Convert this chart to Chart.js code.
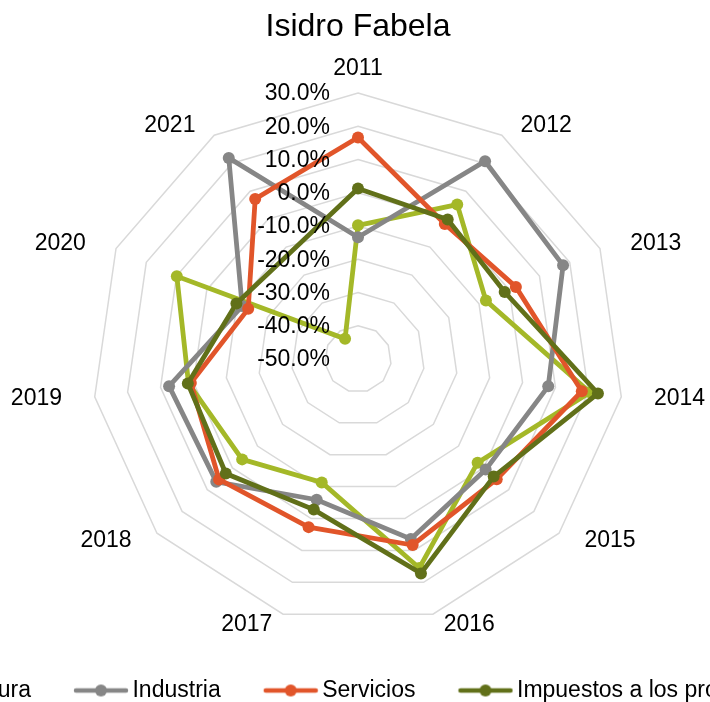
<!DOCTYPE html>
<html lang="es">
<head>
<meta charset="utf-8">
<title>Isidro Fabela</title>
<script src="https://cdn.jsdelivr.net/npm/chart.js@4.4.1/dist/chart.umd.min.js"></script>
<style>
  html, body { margin: 0; padding: 0; background: #fff; overflow: hidden; }
  .wrap { position: relative; width: 710px; height: 702px; overflow: hidden; }
  .box { position: absolute; left: -202px; top: 0; }
</style>
</head>
<body>
<div class="wrap"><div class="box"><canvas id="myChart" width="1120" height="702"></canvas></div></div>

<script>
const years = ['2011', '2012', '2013', '2014', '2015', '2016', '2017', '2018', '2019', '2020', '2021'];

// tasas de crecimiento (%)
const agricultura = [-9.8, 5.2, -7.7, 20.5, -2.4, 15.5, -11.3, -3.9, 1.5, 9.9, -42.8];
const industria   = [-13.4, 20.7, 17.8, 7.8, 0.8, 6.4, -5.9, 6.4, 7.4, -11.7, 21.9];
const servicios   = [16.6, -1.7, 2.2, 18.0, 5.2, 8.3, 2.7, 5.3, 0.8, -13.7, 7.2];
const impuestos   = [1.3, -0.1, -1.5, 22.9, 4.0, 17.2, -2.8, 2.6, 1.7, -9.8, null];

const seriesNames  = ['Agricultura', 'Industria', 'Servicios', 'Impuestos a los productos netos'];
const seriesColors = ['#a4b828', '#868686', '#e1552a', '#617019'];

const tickMin = -50, tickMax = 30, tickStep = 10;

const FONT = '"Liberation Sans", Arial, sans-serif';

function legendMark(color) {
  const c = document.createElement('canvas');
  c.width = 96; c.height = 14;
  const g = c.getContext('2d');
  g.strokeStyle = color;
  g.lineWidth = 4.5;
  g.lineCap = 'round';
  g.beginPath(); g.moveTo(43, 7); g.lineTo(93, 7); g.stroke();
  g.fillStyle = color;
  g.beginPath(); g.arc(68, 7, 6, 0, Math.PI * 2); g.fill();
  return c;
}

// year labels around the web (placed like excel does, pushed out sideways)
const yearLabels = {
  id: 'yearLabels',
  afterDraw(chart) {
    const s = chart.scales.r;
    const ctx = chart.ctx;
    ctx.save();
    ctx.font = '23px ' + FONT;
    ctx.fillStyle = '#000';
    ctx.textAlign = 'center';
    ctx.textBaseline = 'middle';
    years.forEach((y, i) => {
      const a = s.getIndexAngle(i);
      const sn = Math.sin(a), cs = Math.cos(a);
      const w = ctx.measureText(y).width;
      const p = s.getPointPosition(i, s.drawingArea + 11);
      let x = p.x, yy = p.y;
      if (Math.abs(sn) > 0.05) {
        x += Math.sign(sn) * (w / 2 + 2 + 20 * Math.abs(sn));
      } else {
        yy -= Math.sign(cs) * 13;
      }
      ctx.fillText(y, x, yy);
    });
    ctx.restore();
  }
};

// percent labels, right aligned left of the vertical axis
const pctTicks = {
  id: 'pctTicks',
  afterDatasetsDraw(chart) {
    const s = chart.scales.r;
    const ctx = chart.ctx;
    ctx.save();
    ctx.font = '23px ' + FONT;
    ctx.fillStyle = '#000';
    ctx.textAlign = 'right';
    ctx.textBaseline = 'middle';
    s.ticks.forEach(t => {
      const p = s.getPointPositionForValue(0, t.value);
      ctx.fillText(t.value.toFixed(1) + '%', s.xCenter - 28, p.y + 1);
    });
    ctx.restore();
  }
};

const allData = [agricultura, industria, servicios, impuestos];

new Chart('myChart', {
  type: 'radar',
  data: {
    labels: years,
    datasets: allData.map((d, i) => ({
      label: seriesNames[i],
      data: d,
      borderColor: seriesColors[i],
      backgroundColor: seriesColors[i],
      pointBackgroundColor: seriesColors[i],
      pointBorderWidth: 0,
      pointRadius: 6,
      borderWidth: 4.8,
      fill: false,
      spanGaps: true,
      order: 4 - i
    }))
  },
  options: {
    responsive: false,
    animation: false,
    layout: { padding: { bottom: -10 } },
    scales: {
      r: {
        min: tickMin,
        max: tickMax,
        angleLines: { display: false },
        grid: { color: '#d9d9d9', lineWidth: 1.5 },
        pointLabels: { display: false },
        ticks: {
          stepSize: tickStep,
          color: 'rgba(0,0,0,0)',
          font: { size: 12 },
          showLabelBackdrop: true,
          backdropColor: 'rgba(0,0,0,0)',
          backdropPadding: 37
        }
      }
    },
    plugins: {
      title: {
        display: true,
        text: 'Isidro Fabela',
        color: '#000',
        font: { family: FONT, size: 32, weight: 'normal' },
        padding: { top: 8, bottom: 3 }
      },
      legend: {
        position: 'bottom',
        labels: {
          color: '#000',
          font: { family: FONT, size: 23 },
          usePointStyle: true,
          pointStyleWidth: 80,
          padding: 10,
          generateLabels(chart) {
            const n = chart.data.datasets.length;
            return chart.data.datasets.map((ds, i) => ({
              // last entry runs off the canvas; pad it so the row sits like the original
              text: i === n - 1 ? ds.label + '      ' : ds.label,
              pointStyle: legendMark(seriesColors[i]),
              fillStyle: seriesColors[i],
              strokeStyle: seriesColors[i],
              lineWidth: 0,
              fontColor: '#000',
              datasetIndex: i,
              hidden: false
            }));
          }
        }
      },
      tooltip: { enabled: false }
    }
  },
  plugins: [pctTicks, yearLabels]
});
</script>
</body>
</html>
